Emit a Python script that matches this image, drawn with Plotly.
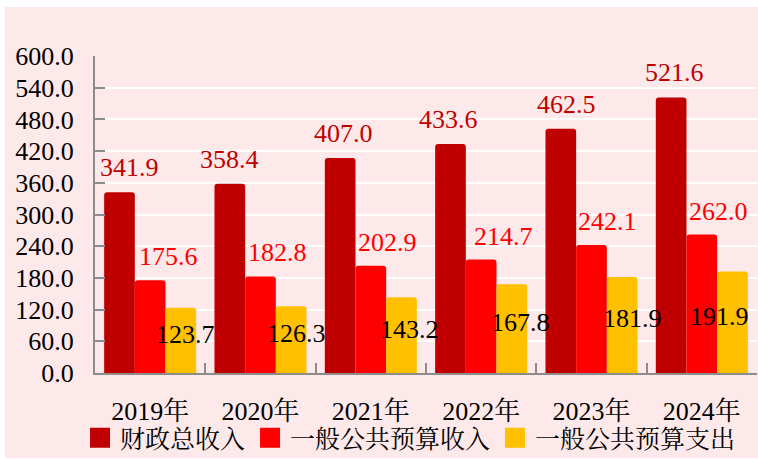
import plotly.graph_objects as go

years = ["2019年", "2020年", "2021年", "2022年", "2023年", "2024年"]
total_revenue = [341.9, 358.4, 407.0, 433.6, 462.5, 521.6]
general_revenue = [175.6, 182.8, 202.9, 214.7, 242.1, 262.0]
general_expense = [123.7, 126.3, 143.2, 167.8, 181.9, 191.9]
series_names = ["财政总收入", "一般公共预算收入", "一般公共预算支出"]
y_ticks = [0, 60, 120, 180, 240, 300, 360, 420, 480, 540, 600]

colors = ["#C00000", "#FF0000", "#FFC000"]
FONT = '"Liberation Serif", "Times New Roman", "Noto Serif CJK SC", "Noto Sans CJK SC", serif'
W, H = 758, 459
L, R, T, B = 95, 1, 56, 86
plot_w = W - L - R
plot_h = H - T - B
bargap = 0.166
bar_w = plot_w / len(years) * (1 - bargap) / 3

# label offsets (pixels) relative to each bar centre
off_total = [10, 0, 3, -2, 6, 3]
off_general = [18, 17, 17, 22, 16, 17]
off_expense = [5, 5, 8, 9, 10, -13]

fig = go.Figure()
for name, vals, col in zip(series_names, [total_revenue, general_revenue, general_expense], colors):
    fig.add_trace(go.Bar(x=years, y=vals, name=name, marker=dict(color=col, line=dict(width=0)),
                         showlegend=False, hoverinfo="x+y"))
# legend proxies (bigger squares)
for name, col in zip(series_names, colors):
    fig.add_trace(go.Scatter(x=[None], y=[None], mode="markers", name=name,
                             marker=dict(symbol="square", size=16, color=col,
                                         line=dict(color=col, width=4))))

ann = []
for i, yr in enumerate(years):
    ann.append(dict(x=yr, y=total_revenue[i], xref="x", yref="y", text=f"{total_revenue[i]:.1f}",
                    showarrow=False, yanchor="bottom", xshift=-bar_w + off_total[i], yshift=8,
                    font=dict(family=FONT, size=26, color="#C00000")))
    ann.append(dict(x=yr, y=general_revenue[i], xref="x", yref="y", text=f"{general_revenue[i]:.1f}",
                    showarrow=False, yanchor="bottom", xshift=off_general[i], yshift=7,
                    font=dict(family=FONT, size=26, color="#FF0000")))
    ann.append(dict(x=yr, y=general_expense[i] / 2, xref="x", yref="y", text=f"{general_expense[i]:.1f}",
                    showarrow=False, yanchor="middle", xshift=bar_w + off_expense[i], yshift=6,
                    font=dict(family=FONT, size=26, color="#000000")))

fig.update_layout(
    width=W, height=H,
    margin=dict(l=L, r=R, t=T, b=B, pad=0, autoexpand=False),
    paper_bgcolor="#FFFFFF",
    plot_bgcolor="rgba(0,0,0,0)",
    barmode="group", bargap=bargap, bargroupgap=0,
    barcornerradius=3,
    font=dict(family=FONT, size=26, color="#000000"),
    annotations=ann,
    shapes=[dict(type="rect", xref="paper", yref="paper", layer="below",
                 x0=(5 - L) / plot_w, x1=(W - L + 2) / plot_w,
                 y0=(H - B - 458) / plot_h, y1=(H - B - 7) / plot_h,
                 fillcolor="#FDE9E9", line=dict(width=0))],
    legend=dict(orientation="h", xref="container", yref="container",
                x=0.5416, xanchor="center", y=1 - 438 / H, yanchor="middle",
                font=dict(family=FONT, size=25, color="#000000"),
                bgcolor="rgba(0,0,0,0)", itemwidth=30, tracegroupgap=0),
    xaxis=dict(type="category", showline=True, linecolor="#8C8C8C", linewidth=2,
               ticks="inside", tickson="boundaries", ticklen=10, tickcolor="#8C8C8C", tickwidth=1.5,
               showgrid=False, ticklabelstandoff=14,
               tickfont=dict(family=FONT, size=26, color="#000000")),
    yaxis=dict(range=[0, 600], tickvals=y_ticks, tickformat=".1f", showline=True,
               linecolor="#8C8C8C", linewidth=2, ticks="inside", ticklen=10, tickcolor="#8C8C8C",
               tickwidth=1.5, showgrid=True, gridcolor="#FFFFFF", gridwidth=2, zeroline=False,
               ticklabelstandoff=14,
               tickfont=dict(family=FONT, size=26, color="#000000")),
)

fig.write_html("out.html", config={"displayModeBar": False},
               post_script="document.body.style.margin='0';document.body.style.overflow='hidden';")
